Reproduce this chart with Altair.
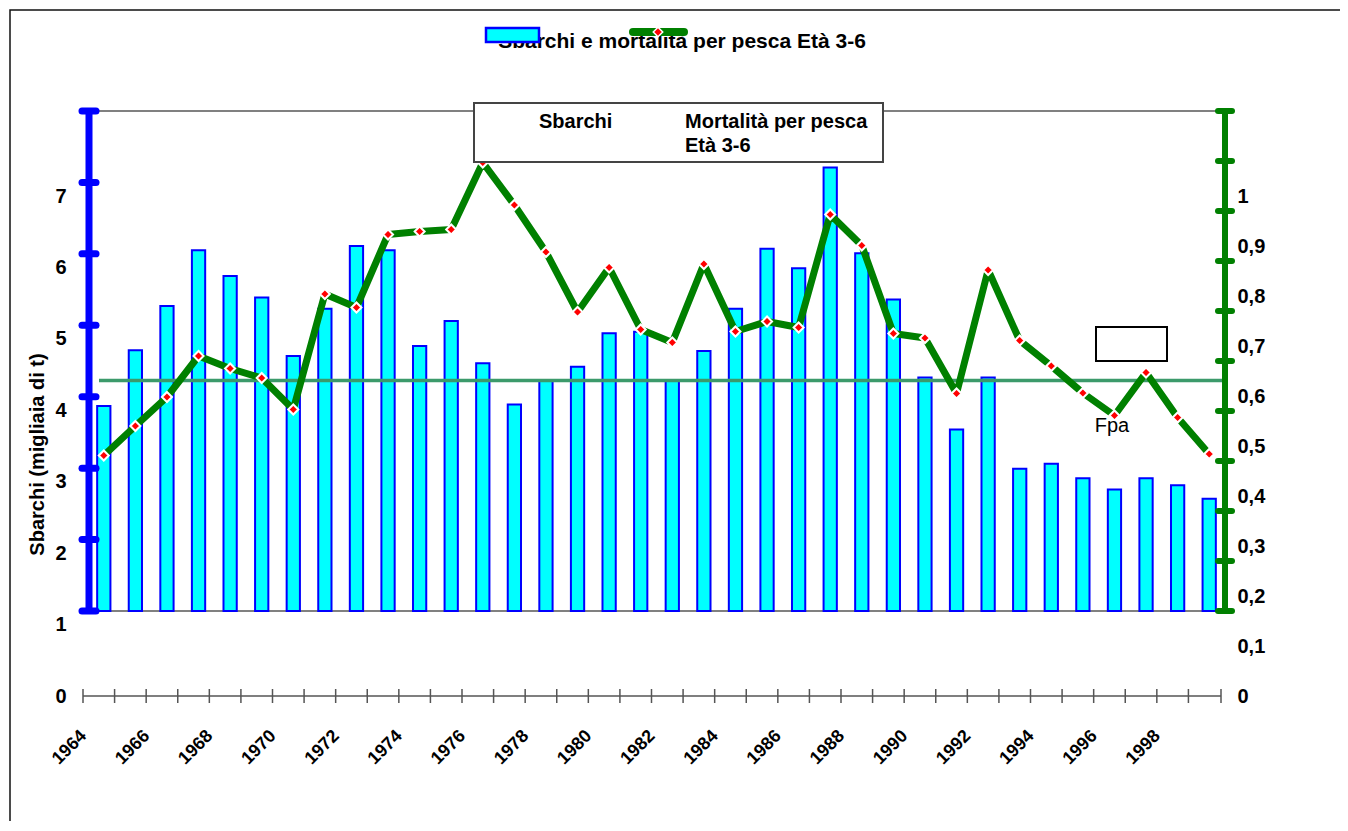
import altair as alt
import pandas as pd

# ---------------- data ----------------
YEARS = list(range(1964, 2000))
SBARCHI = [4.06, 4.84, 5.46, 6.24, 5.88, 5.58, 4.76, 5.42, 6.30, 6.24,
           4.90, 5.25, 4.66, 4.08, 4.41, 4.61, 5.08, 5.10, 4.41, 4.83,
           5.42, 6.26, 5.99, 7.40, 6.20, 5.55, 4.46, 3.73, 4.46, 3.18,
           3.25, 3.05, 2.89, 3.05, 2.95, 2.76]
MORTALITA = [0.481, 0.540, 0.598, 0.680, 0.655, 0.636, 0.573, 0.804, 0.777, 0.923,
             0.929, 0.933, 1.067, 0.982, 0.888, 0.768, 0.857, 0.733, 0.707, 0.864,
             0.729, 0.749, 0.737, 0.963, 0.901, 0.725, 0.716, 0.605, 0.852, 0.711,
             0.660, 0.606, 0.561, 0.647, 0.557, 0.484]
FPA = [0.631]
LEFT_TICKS = [0, 1, 2, 3, 4, 5, 6, 7]
RIGHT_TICKS = [0, 0.1, 0.2, 0.3, 0.4, 0.5, 0.6, 0.7, 0.8, 0.9, 1]

TITLE = "Sbarchi e mortalità per pesca Età 3-6"
Y_TITLE = "Sbarchi (migliaia di t)"
LEG_1 = "Sbarchi"
LEG_2A = "Mortalità per pesca"
LEG_2B = "Età 3-6"
FPA_LABEL = "Fpa"

# ---------------- layout ----------------
W, H = 1137, 585
LEFT_TOP, BAR_BASE = 8.19, 1.19      # left-axis units at plot top / bar base
RIGHT_TOP, LINE_BASE = 1.17, 0.17    # right-axis units at plot top / frame base
FONT = "Liberation Sans"

df = pd.DataFrame({"anno": YEARS, "sbarchi": SBARCHI, "mort": MORTALITA})
one = pd.DataFrame({"k": [0]})


def LS():
    return alt.Scale(domain=[0, LEFT_TOP], nice=False, zero=False)


def RS():
    return alt.Scale(domain=[0, RIGHT_TOP], nice=False, zero=False)


def XS():
    return alt.Scale(type="band", paddingInner=0, paddingOuter=0)


def x_axis():
    return alt.Axis(labelAngle=315, labelAlign="right", labelBaseline="middle",
                    labelExpr="datum.value % 2 == 0 ? datum.label : ''",
                    ticks=False, domain=False, grid=False,
                    labelPadding=37, labelOffset=-20, labelFont=FONT, labelFontSize=18,
                    labelFontWeight="bold", labelColor="black", labelOverlap=False, title=None)


def XE(**kw):
    return alt.X("anno:O", scale=XS(), axis=x_axis(), **kw)


left_axis = alt.Axis(values=LEFT_TICKS, ticks=False, domain=False, grid=False,
                     labelPadding=22, labelFont=FONT, labelFontSize=20, labelFontWeight="bold",
                     labelColor="black", title=Y_TITLE, titleFont=FONT, titleFontSize=20,
                     titleFontWeight="bold", titleColor="black", titleAngle=270,
                     titleX=-51, titleY=343, titleAlign="center", titleBaseline="middle")

right_axis = alt.Axis(orient="right", values=RIGHT_TICKS,
                      labelExpr="replace(format(datum.value, '.1~f'), '.', ',')",
                      ticks=False, domain=False, grid=False, labelPadding=12,
                      labelFont=FONT, labelFontSize=20, labelFontWeight="bold",
                      labelColor="black", title=None)

# ---------------- Sbarchi (left scale) ----------------
frame_lines = alt.Chart(pd.DataFrame({"v": [LEFT_TOP, BAR_BASE]})).mark_rule(
    color="#808080", strokeWidth=2).encode(
    y=alt.Y("v:Q", scale=LS(), axis=None), x=alt.value(0), x2=alt.value(W))

bars = alt.Chart(df).mark_bar(fill="#00FFFF", stroke="#0000FF", strokeWidth=2,
                              width={"band": 0.42}).encode(
    x=XE(),
    y=alt.Y("sbarchi:Q", scale=LS(), axis=left_axis),
    y2=alt.datum(BAR_BASE))

blue_line = alt.Chart(pd.DataFrame({"top": [LEFT_TOP], "bot": [BAR_BASE]})).mark_rule(
    color="#0000FF", strokeWidth=7).encode(
    x=alt.value(1), y=alt.Y("top:Q", scale=LS(), axis=None), y2="bot:Q")

blue_caps = alt.Chart(pd.DataFrame({"v": [BAR_BASE + k for k in range(8)]})).mark_rule(
    color="#0000FF", strokeWidth=7, strokeCap="round").encode(
    y=alt.Y("v:Q", scale=LS(), axis=None), x=alt.value(-6), x2=alt.value(8))

# ---------------- mortalità (right scale) ----------------
fpa = alt.Chart(pd.DataFrame({"fpa": FPA})).mark_rule(color="#3C9A6B", strokeWidth=3.5).encode(
    y=alt.Y("fpa:Q", scale=RS(), axis=None), x=alt.value(11), x2=alt.value(1139))

line = alt.Chart(df).mark_line(color="#008000", strokeWidth=7, strokeJoin="round").encode(
    x=XE(),
    y=alt.Y("mort:Q", scale=RS(), axis=right_axis))

pts = alt.Chart(df).mark_point(shape="diamond", filled=True, fill="#FF0000", stroke="white",
                               strokeWidth=2, size=100, opacity=1).encode(
    x=XE(),
    y=alt.Y("mort:Q", scale=RS(), axis=None))

green_line = alt.Chart(pd.DataFrame({"top": [RIGHT_TOP], "bot": [LINE_BASE]})).mark_rule(
    color="#008000", strokeWidth=6).encode(
    x=alt.value(W), y=alt.Y("top:Q", scale=RS(), axis=None), y2="bot:Q")

green_caps = alt.Chart(pd.DataFrame({"v": [LINE_BASE + 0.1 * k for k in range(11)]})).mark_rule(
    color="#008000", strokeWidth=6, strokeCap="round").encode(
    y=alt.Y("v:Q", scale=RS(), axis=None), x=alt.value(W - 7), x2=alt.value(W + 7))

# ---------------- decorations / annotations ----------------
x_domain = alt.Chart(one).mark_rule(color="black", strokeWidth=1.2).encode(
    x=alt.value(-5), x2=alt.value(W - 4), y=alt.value(H))
x_ticks = alt.Chart(df).mark_rule(color="#555555", strokeWidth=1.5, xOffset=-5).encode(
    x=XE(bandPosition=0),
    y=alt.value(H - 7), y2=alt.value(H + 7))
x_tick_end = alt.Chart(one).mark_rule(color="#555555", strokeWidth=1.5).encode(
    x=alt.value(W - 4), y=alt.value(H - 7), y2=alt.value(H + 7))


def txt(s, x, y, size=20, weight="bold", align="left"):
    return alt.Chart(one).mark_text(text=s, font=FONT, fontSize=size, fontWeight=weight,
                                    color="black", align=align, baseline="alphabetic").encode(
        x=alt.value(x), y=alt.value(y))


fpa_text = txt(FPA_LABEL, 1024, 321, size=20, weight="normal", align="center")
empty_box = alt.Chart(one).mark_rect(fill="white", stroke="black", strokeWidth=2).encode(
    x=alt.value(1008), x2=alt.value(1079), y=alt.value(216), y2=alt.value(250))

legend_box = alt.Chart(one).mark_rect(fill="white", stroke="#444444", strokeWidth=2).encode(
    x=alt.value(386), x2=alt.value(795), y=alt.value(-8), y2=alt.value(51))
leg1 = txt(LEG_1, 451, 17)
leg2a = txt(LEG_2A, 597, 17)
leg2b = txt(LEG_2B, 597, 41)

title = txt(TITLE, 594, -63, size=21, align="center")
sym_bar = alt.Chart(one).mark_rect(fill="#00FFFF", stroke="#0000FF", strokeWidth=2.5).encode(
    x=alt.value(398), x2=alt.value(451), y=alt.value(-83), y2=alt.value(-69))
sym_line = alt.Chart(one).mark_rule(color="#008000", strokeWidth=8, strokeCap="round").encode(
    x=alt.value(545), x2=alt.value(596), y=alt.value(-79))
sym_pt = alt.Chart(one).mark_point(shape="diamond", filled=True, fill="#FF0000", stroke="white",
                                   strokeWidth=1.5, size=90, opacity=1).encode(
    x=alt.value(570), y=alt.value(-79))

outer_frame = alt.Chart(one).mark_rect(fill="white", fillOpacity=0, stroke="#111111",
                                       strokeWidth=1.5).encode(
    x=alt.value(-78), x2=alt.value(1400), y=alt.value(-101), y2=alt.value(900))

chart = alt.layer(
    frame_lines, bars, blue_line, blue_caps,
    fpa, line, pts, green_line, green_caps,
    x_domain, x_ticks, x_tick_end, empty_box, fpa_text, legend_box, leg1, leg2a, leg2b,
    title, sym_bar, sym_line, sym_pt, outer_frame,
).resolve_scale(y="independent").properties(
    width=W, height=H,
    autosize=alt.AutoSizeParams(type="none"),
    padding={"left": 80, "top": 103, "right": 115, "bottom": 125},
).configure_view(strokeWidth=0)

chart.save("out.html", embed_options={"renderer": "svg", "actions": False})
